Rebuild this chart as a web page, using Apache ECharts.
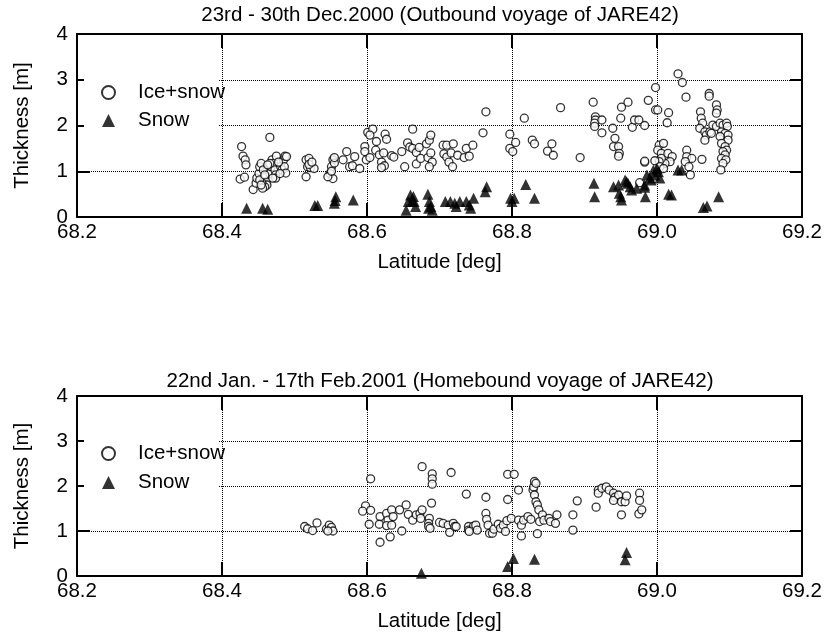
<!DOCTYPE html>
<html>
<head>
<meta charset="utf-8">
<script src="https://cdn.jsdelivr.net/npm/echarts@6/dist/echarts.min.js"></script>
<style>
  html, body { margin: 0; padding: 0; background: #fff; }
  #main { width: 827px; height: 635px; }
</style>
</head>
<body>
<div id="main"></div>
<script>
// [latitude, thickness]
const iceSnowOut = [
  [68.427,1.54],[68.429,1.33],[68.432,1.25],[68.433,1.14],[68.425,0.83],[68.431,0.87],[68.466,1.74],[68.443,0.60],
  [68.447,0.74],[68.448,0.85],[68.451,0.95],[68.452,1.10],[68.454,1.17],[68.457,1.03],[68.459,0.88],[68.461,0.77],
  [68.462,0.70],[68.459,0.66],[68.455,0.74],[68.452,0.81],[68.466,0.95],[68.468,1.10],[68.469,1.25],[68.471,1.17],
  [68.473,1.03],[68.474,0.92],[68.475,1.33],[68.481,1.10],[68.483,1.03],[68.485,1.25],[68.487,1.33],[68.474,0.85],
  [68.470,0.85],[68.466,1.17],[68.463,1.14],[68.459,0.92],[68.456,0.63],[68.454,0.70],[68.489,1.32],[68.486,1.10],
  [68.488,0.96],[68.478,1.20],[68.480,0.95],
  [68.516,1.25],[68.520,1.28],[68.518,1.10],[68.522,1.08],[68.516,0.88],[68.527,1.06],[68.520,1.15],[68.524,1.20],
  [68.553,1.25],[68.551,1.10],[68.555,1.18],[68.549,0.95],[68.553,0.84],[68.546,0.88],[68.551,1.00],[68.555,1.30],
  [68.567,1.25],[68.572,1.43],[68.576,1.10],[68.580,1.12],[68.583,1.32],[68.590,1.06],[68.597,1.54],[68.597,1.43],
  [68.599,1.25],[68.601,1.85],
  [68.608,1.92],[68.604,1.79],[68.625,1.81],[68.627,1.70],[68.613,1.65],[68.612,1.46],[68.617,1.36],[68.623,1.40],
  [68.620,1.20],[68.624,1.12],[68.620,1.08],[68.634,1.34],[68.637,1.31],[68.604,1.30],[68.648,1.43],[68.652,1.10],
  [68.656,1.62],[68.659,1.53],[68.663,1.92],[68.663,1.50],[68.668,1.41],[68.668,1.16],[68.672,1.52],[68.674,1.28],
  [68.682,1.60],[68.686,1.68],[68.688,1.79],[68.684,1.30],[68.688,1.40],[68.690,1.20],[68.686,1.10],[68.705,1.57],
  [68.710,1.57],[68.706,1.38],[68.710,1.31],[68.716,1.40],[68.713,1.20],[68.718,1.10],[68.719,1.60],[68.725,1.35],
  [68.734,1.30],[68.737,1.50],[68.741,1.33],[68.746,1.57],[68.760,1.84],[68.764,2.30],[68.797,1.81],[68.797,1.50],
  [68.801,1.43],[68.805,1.63],[68.817,2.16],[68.828,1.68],[68.831,1.60],[68.849,1.44],[68.855,1.60],[68.857,1.35],
  [68.867,2.39],[68.894,1.30],[68.912,2.51],[68.915,2.19],[68.915,2.12],[68.914,2.05],[68.914,1.98],[68.924,2.12],
  [68.924,1.84],
  [68.939,1.94],[68.942,1.72],[68.940,1.54],[68.947,1.54],[68.948,1.39],[68.947,1.33],[68.951,2.40],[68.950,2.16],
  [68.960,2.51],[68.966,1.96],[68.969,2.12],[68.975,2.12],[68.983,2.00],[68.983,1.20],[68.988,2.55],[68.998,2.83],
  [68.998,2.34],[69.001,2.34],[69.016,2.28],[69.014,2.06],[68.976,0.75],
  [69.003,1.57],[69.009,1.61],[69.001,1.46],[69.006,1.39],[69.015,1.39],[69.021,1.32],[69.018,1.21],[69.011,1.17],
  [69.006,1.28],[69.003,1.21],[68.997,1.23],[68.983,1.22],[69.041,1.46],[69.041,1.32],[69.048,1.28],[69.039,1.21],
  [69.044,1.10],[69.046,0.92],[69.062,1.26],[69.004,1.10],[69.009,1.06],
  [69.029,3.13],[69.035,2.94],[69.040,2.62],[69.072,2.70],[69.072,2.64],[69.082,2.45],[69.083,2.34],[69.082,2.27],
  [69.060,2.30],[69.061,2.16],[69.063,2.05],[69.059,1.94],[69.066,1.86],[69.068,1.79],[69.073,1.86],[69.075,1.83],
  [69.066,1.68],[69.077,2.01],[69.082,1.98],[69.087,2.05],[69.091,2.01],[69.096,2.05],[69.097,1.98],[69.089,1.86],
  [69.094,1.83],[69.098,1.79],[69.087,1.76],[69.098,1.68],[69.089,1.61],[69.094,1.54],[69.096,1.46],[69.091,1.43],
  [69.094,1.36],[69.089,1.28],[69.095,1.25],[69.091,1.17],[69.088,1.03]
];

const snowOut = [
  [68.434,0.19],[68.456,0.19],[68.463,0.17],[68.528,0.25],[68.532,0.25],[68.555,0.30],[68.557,0.44],[68.556,0.36],
  [68.581,0.37],
  [68.654,0.15],[68.660,0.48],[68.664,0.45],[68.665,0.34],[68.667,0.23],[68.662,0.34],[68.657,0.34],[68.684,0.50],
  [68.686,0.34],[68.688,0.23],[68.690,0.15],[68.685,0.19],[68.708,0.34],[68.715,0.34],[68.721,0.30],[68.723,0.23],
  [68.728,0.34],[68.737,0.34],[68.741,0.26],[68.743,0.19],[68.747,0.41],[68.763,0.55],[68.765,0.66],[68.798,0.41],
  [68.803,0.41],[68.800,0.34],[68.819,0.71],[68.831,0.41],[68.913,0.74],[68.914,0.44],
  [68.940,0.66],[68.947,0.70],[68.950,0.44],[68.951,0.37],[68.948,0.52],[68.956,0.81],[68.958,0.77],[68.960,0.74],
  [68.963,0.66],[68.965,0.59],[68.972,0.63],[68.983,0.70],[68.984,0.44],[68.983,0.65],[68.986,0.92],[68.990,0.85],
  [68.992,0.81],[68.995,1.03],[69.000,1.06],[69.002,0.99],[68.997,0.92],[69.004,0.85],[69.016,0.50],[69.020,0.48],
  [69.029,1.03],[69.034,1.03],[69.064,0.21],[69.069,0.24],[69.085,0.44]
];

const iceSnowHome = [
  [68.514,1.10],[68.518,1.05],[68.525,1.01],[68.531,1.18],[68.544,1.04],[68.548,1.13],[68.551,1.08],[68.553,1.00],
  [68.546,1.00],
  [68.605,2.16],[68.598,1.56],[68.594,1.44],[68.605,1.46],[68.603,1.15],
  [68.618,1.32],[68.617,1.15],[68.618,0.75],[68.627,1.39],[68.629,1.24],[68.627,1.12],[68.632,0.87],[68.634,1.47],
  [68.636,1.32],[68.634,1.13],[68.645,1.47],[68.648,1.00],[68.654,1.58],[68.657,1.37],[68.663,1.24],[68.668,1.36],
  [68.673,1.39],[68.676,1.47],[68.674,1.28],[68.686,1.28],[68.685,1.17],[68.685,1.10],[68.687,1.06],[68.689,1.62],
  [68.700,1.19],[68.705,1.17],[68.712,1.13],[68.714,0.97],[68.719,1.17],[68.721,1.10],[68.723,1.10],[68.740,1.10],
  [68.740,1.02],[68.737,1.82],[68.676,2.43],[68.690,2.27],[68.690,2.16],[68.690,2.04],[68.716,2.30],
  [68.747,1.11],[68.750,1.13],[68.752,1.02],[68.741,0.99],
  [68.764,1.75],[68.764,1.39],[68.765,1.26],[68.767,1.13],[68.769,0.95],[68.773,0.95],[68.775,1.04],[68.781,1.15],
  [68.784,1.06],[68.788,1.13],[68.791,0.99],[68.793,1.23],[68.794,1.70],[68.794,2.26],[68.799,1.28],[68.803,2.26],
  [68.809,1.91],[68.809,1.24],[68.813,1.13],[68.813,0.89],[68.816,1.24],[68.822,1.32],[68.826,1.26],[68.829,1.91],
  [68.830,1.98],[68.831,2.10],[68.833,2.06],[68.831,1.80],[68.833,1.65],[68.835,1.58],[68.837,1.47],[68.838,1.21],
  [68.835,0.94],[68.842,1.36],[68.844,1.24],[68.851,1.28],[68.853,1.21],[68.860,1.17],[68.862,1.36],
  [68.884,1.36],[68.884,1.02],[68.890,1.67],
  [68.916,1.53],[68.919,1.91],[68.919,1.84],[68.924,1.95],[68.930,1.98],[68.934,1.91],[68.940,1.84],[68.942,1.75],
  [68.940,1.68],[68.947,1.80],[68.951,1.65],[68.956,1.65],[68.958,1.78],[68.951,1.36],[68.976,1.84],[68.976,1.68],
  [68.975,1.38],[68.979,1.47]
];

const snowHome = [
  [68.675,0.06],[68.794,0.21],[68.802,0.39],[68.831,0.37],[68.958,0.52],[68.956,0.36]
];

const titles = [
  '23rd - 30th Dec.2000 (Outbound voyage of JARE42)',
  '22nd Jan. - 17th Feb.2001 (Homebound voyage of JARE42)'
];
const xName = 'Latitude [deg]';
const yName = 'Thickness [m]';

const FONT = '"Liberation Sans", Arial, sans-serif';
const FS = 20.5;
const grids = [
  { left: 77, top: 34, width: 725, height: 183 },
  { left: 77, top: 396, width: 725, height: 180 }
];

function bottomX(gi) {
  return {
    type: 'value', gridIndex: gi, position: 'bottom',
    min: 68.2, max: 69.2, interval: 0.2,
    name: xName, nameLocation: 'middle', nameGap: 35,
    nameTextStyle: { fontSize: FS, color: '#000', fontFamily: FONT },
    axisLine: { show: true, onZero: false, lineStyle: { color: '#000', width: 2 } },
    axisTick: { show: true, inside: true, length: 14, lineStyle: { color: '#000', width: 2 } },
    axisLabel: { fontSize: FS, color: '#000', fontFamily: FONT, margin: 5,
      formatter: v => v.toFixed(1) },
    splitLine: { show: true, lineStyle: { color: '#000', width: 1, type: 'dotted' } }
  };
}
function topX(gi) {
  return {
    type: 'value', gridIndex: gi, position: 'top',
    min: 68.2, max: 69.2, interval: 0.2,
    axisLine: { show: true, onZero: false, lineStyle: { color: '#000', width: 2 } },
    axisTick: { show: true, inside: true, length: 14, lineStyle: { color: '#000', width: 2 } },
    axisLabel: { show: false },
    splitLine: { show: false }
  };
}
function leftY(gi) {
  return {
    type: 'value', gridIndex: gi, position: 'left',
    min: 0, max: 4, interval: 1,
    name: yName, nameLocation: 'middle', nameGap: 44, nameRotate: 90,
    nameTextStyle: { fontSize: FS, color: '#000', fontFamily: FONT },
    axisLine: { show: true, onZero: false, lineStyle: { color: '#000', width: 2 } },
    axisTick: { show: true, inside: true, length: 13, lineStyle: { color: '#000', width: 2 } },
    axisLabel: { fontSize: FS, color: '#000', fontFamily: FONT, margin: 9 },
    splitLine: { show: true, lineStyle: { color: '#000', width: 1, type: 'dotted' } }
  };
}
function rightY(gi) {
  return {
    type: 'value', gridIndex: gi, position: 'right',
    min: 0, max: 4, interval: 1,
    axisLine: { show: true, onZero: false, lineStyle: { color: '#000', width: 2 } },
    axisTick: { show: true, inside: true, length: 12, lineStyle: { color: '#000', width: 2 } },
    axisLabel: { show: false },
    splitLine: { show: false }
  };
}

function iceSeries(data, ai) {
  return {
    name: 'Ice+snow', type: 'scatter', xAxisIndex: ai, yAxisIndex: ai, data: data,
    symbol: 'circle', symbolSize: 8,
    itemStyle: { color: '#fff', borderColor: '#000', borderWidth: 1.3 }
  };
}
function snowSeries(data, ai) {
  return {
    name: 'Snow', type: 'scatter', xAxisIndex: ai, yAxisIndex: ai, data: data,
    symbol: 'triangle', symbolSize: 11,
    itemStyle: { color: '#000' }
  };
}

function legendAt(top, gap) {
  return {
    data: ['Ice+snow', 'Snow'], orient: 'vertical',
    left: 101, top: top, padding: 0, itemGap: gap,
    itemWidth: 13, itemHeight: 13,
    selectedMode: false,
    textStyle: { fontSize: FS, color: '#000', fontFamily: FONT, padding: [0, 0, 0, 18] }
  };
}

function titleAt(text, top) {
  // centred over the plot area (77..802), not the whole canvas
  return {
    text: text, left: 435, top: top, textAlign: 'center',
    textStyle: { fontSize: FS, fontWeight: 'normal', color: '#000', fontFamily: FONT }
  };
}

const chart = echarts.init(document.getElementById('main'), null, { renderer: 'canvas' });
chart.setOption({
  animation: false,
  backgroundColor: '#fff',
  title: [titleAt(titles[0], 0), titleAt(titles[1], 366)],
  legend: [legendAt(82, 7), legendAt(443, 8)],
  grid: grids,
  xAxis: [bottomX(0), topX(0), bottomX(1), topX(1)],
  yAxis: [leftY(0), rightY(0), leftY(1), rightY(1)],
  series: [
    iceSeries(iceSnowOut, 0), snowSeries(snowOut, 0),
    iceSeries(iceSnowHome, 2), snowSeries(snowHome, 2)
  ]
});

// white legend boxes (hide grid lines behind legend, as in the original)
const boxes = [0, 2].map(ai => {
  const a = chart.convertToPixel({ xAxisIndex: ai, yAxisIndex: ai }, [68.2, 4]);
  const b = chart.convertToPixel({ xAxisIndex: ai, yAxisIndex: ai }, [68.4, 1.8]);
  return {
    type: 'rect', z: 1,
    shape: { x: a[0] + 7, y: a[1] + 2, width: b[0] - a[0] - 10, height: b[1] - a[1] - 2 },
    style: { fill: '#fff' }
  };
});
chart.setOption({ graphic: boxes });
</script>
</body>
</html>
